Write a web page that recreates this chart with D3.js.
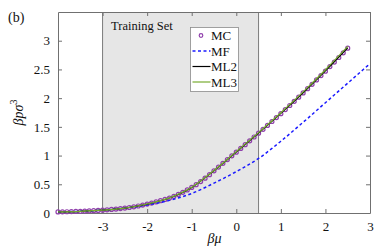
<!DOCTYPE html>
<html><head><meta charset="utf-8">
<script src="https://cdn.jsdelivr.net/npm/d3@7"></script>
<style>body{margin:0;background:#fff}svg{display:block}text{font-family:"Liberation Serif","Times New Roman",serif;fill:#111}</style>
</head><body>
<svg id="c" width="390" height="252"></svg>
<script>
const mcX = d3.range(66).map(i => +(-4 + i*0.1).toFixed(1));
const mcY = [0.018,0.020,0.022,0.025,0.027,0.030,0.033,0.037,0.041,0.045,
0.050,0.056,0.062,0.069,0.077,0.085,0.096,0.108,0.122,0.138,
0.155,0.173,0.193,0.214,0.236,0.260,0.290,0.323,0.360,0.401,
0.445,0.494,0.548,0.606,0.668,0.735,0.800,0.865,0.930,0.995,
1.06,1.125,1.19,1.257,1.323,1.39,1.457,1.525,1.593,1.661,
1.73,1.801,1.872,1.944,2.017,2.09,2.165,2.241,2.317,2.393,
2.47,2.549,2.628,2.708,2.789,2.87];
const mlX = [-4,-3.5,-3,-2.5,-2,-1.5,-1,-0.5,0,0.5,1,1.5,2,2.5];
const ml2Y = [0.018,0.030,0.050,0.086,0.156,0.262,0.446,0.737,1.062,1.392,1.734,2.094,2.476,2.878];
const ml3Y = [0.018,0.030,0.050,0.086,0.157,0.264,0.449,0.741,1.068,1.400,1.745,2.108,2.494,2.900];
const mfX = [-4,-3.5,-3,-2.5,-2,-1.5,-1,-0.5,0,0.5,1,1.5,2,2.5,3];
const mfY = [0.018,0.030,0.050,0.085,0.14,0.22,0.34,0.52,0.72,0.95,1.25,1.58,1.92,2.26,2.60];
const xTicks = [-3,-2,-1,0,1,2,3];
const yTicks = [0,0.5,1,1.5,2,2.5,3];
const trainRange = [-3,0.5];
const legendNames = ["MC","MF","ML2","ML3"];

const svg = d3.select("#c");
const L=58,R=370,T=12,B=213;
const x = d3.scaleLinear().domain([-4,3]).range([L,R]);
const y = d3.scaleLinear().domain([0,3.5]).range([B,T]);
const axCol="#707070";
const mcCol="#9040ac";

svg.append("rect").attr("x",x(trainRange[0])).attr("y",T).attr("width",x(trainRange[1])-x(trainRange[0])).attr("height",B-T)
  .attr("fill","#e6e6e6");
trainRange.forEach(v=>svg.append("line").attr("x1",x(v)).attr("x2",x(v)).attr("y1",T).attr("y2",B).attr("stroke","#7a7a7a").attr("stroke-width",1));
svg.append("text").attr("x",x(trainRange[0])+8.5).attr("y",29.5).attr("font-size",12.5).text("Training Set");

const fmt = d => String(d);
const gB = svg.append("g").attr("transform",`translate(0,${B})`).call(d3.axisBottom(x).tickValues(xTicks).tickSizeInner(-4).tickSizeOuter(0).tickPadding(9).tickFormat(fmt));
const gT = svg.append("g").attr("transform",`translate(0,${T})`).call(d3.axisTop(x).tickValues(xTicks).tickSizeInner(-4).tickSizeOuter(0).tickFormat(""));
const gL = svg.append("g").attr("transform",`translate(${L},0)`).call(d3.axisLeft(y).tickValues(yTicks).tickSizeInner(-4).tickSizeOuter(0).tickPadding(8).tickFormat(fmt));
const gR = svg.append("g").attr("transform",`translate(${R},0)`).call(d3.axisRight(y).tickValues(yTicks).tickSizeInner(-4).tickSizeOuter(0).tickFormat(""));
[gB,gT,gL,gR].forEach(g=>{g.selectAll("path").attr("stroke",axCol);g.selectAll("line").attr("stroke",axCol);
  g.selectAll("text").attr("font-size",13).attr("font-family","Liberation Serif, serif").attr("fill","#111");});

const line = d3.line().x(d=>x(d[0])).y(d=>y(d[1])).curve(d3.curveMonotoneX);
svg.append("g").selectAll("circle").data(mcX.map((v,i)=>[v,mcY[i]])).join("circle")
  .attr("cx",d=>x(d[0])).attr("cy",d=>y(d[1])).attr("r",2).attr("fill","none").attr("stroke",mcCol).attr("stroke-width",1.2);
svg.append("path").attr("d",line(mfX.map((v,i)=>[v,mfY[i]]))).attr("fill","none").attr("stroke","#1a1aff").attr("stroke-width",1.5).attr("stroke-dasharray","3,2.5");
svg.append("path").attr("d",line(mlX.map((v,i)=>[v,ml2Y[i]]))).attr("fill","none").attr("stroke","#000").attr("stroke-width",1.2);
svg.append("path").attr("d",line(mlX.map((v,i)=>[v,ml3Y[i]]))).attr("fill","none").attr("stroke","#77ac30").attr("stroke-width",1.2);

const lg = svg.append("g");
lg.append("rect").attr("x",190.5).attr("y",27.5).attr("width",48).attr("height",64).attr("fill","#fff").attr("stroke","#8a8a8a").attr("stroke-width",0.8);
const ly = [35.5,51,66.5,82];
legendNames.forEach((n,i)=>{
  if(i===0) lg.append("circle").attr("cx",201).attr("cy",ly[i]).attr("r",1.8).attr("fill","none").attr("stroke",mcCol).attr("stroke-width",1.2);
  else lg.append("line").attr("x1",192.5).attr("x2",210.5).attr("y1",ly[i]).attr("y2",ly[i])
     .attr("stroke",["","#1a1aff","#000","#77ac30"][i]).attr("stroke-width",i===1?1.5:1.2).attr("stroke-dasharray",i===1?"3,2.5":null);
  lg.append("text").attr("x",211).attr("y",ly[i]+4.5).attr("font-size",13).text(n);
});

svg.append("text").attr("x",8).attr("y",22).attr("font-size",14).text("(b)");
svg.append("text").attr("x",x(0.5)-44).attr("y",243).attr("text-anchor","middle").attr("font-size",14).attr("font-style","italic").text("βμ");
const yl = svg.append("text").attr("transform",`translate(23,${(T+B)/2}) rotate(-90)`).attr("text-anchor","middle").attr("font-size",14).attr("font-style","italic");
yl.append("tspan").text("βpσ");
yl.append("tspan").attr("font-size",10).attr("dy",-6).attr("font-style","normal").text("3");
</script>
</body></html>
